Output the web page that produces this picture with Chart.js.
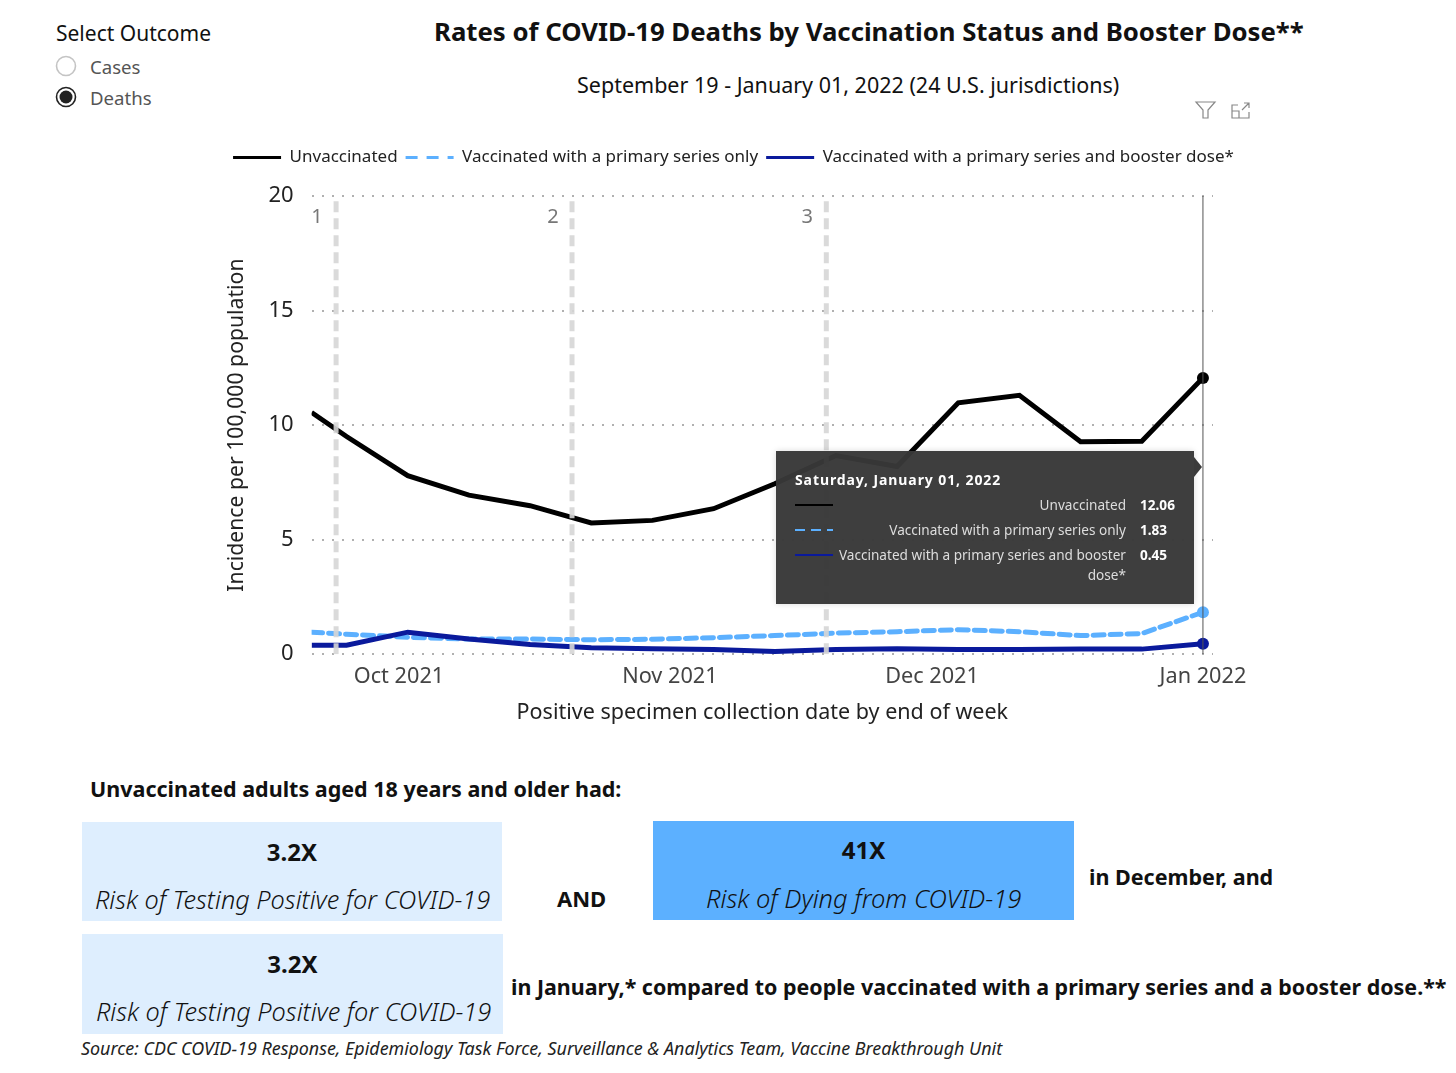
<!DOCTYPE html>
<html>
<head>
<meta charset="utf-8">
<script src="https://cdn.jsdelivr.net/npm/chart.js@4"></script>
<style>
  html, body { margin: 0; background: #fff; }
  body { width: 1456px; height: 1073px; position: relative; overflow: hidden; font-family: "Noto Sans", sans-serif; color: #111; }
  .t { position: absolute; white-space: nowrap; line-height: 1; }
  .b { font-weight: 700; }
  .box { position: absolute; }
  .it { font-style: italic; font-weight: 300; }
  #wrap { position: absolute; left: 100px; top: 130px; width: 1266px; height: 600px; }
  #tip { position: absolute; left: 776px; top: 451px; width: 418px; height: 153px; background: rgba(56,56,56,.97); box-shadow: 0 0 6px rgba(0,0,0,.15); color: #ddd; font-size: 13.6px; }
  #tip:after { content: ""; position: absolute; left: 418px; top: 6px; border: 10px solid transparent; border-left: 8px solid #3b3b3b; border-right: 0; }
  #tip .t { position: absolute; }
</style>
</head>
<body>
<div class="t" style="left:56px;top:23px;font-size:21px;">Select Outcome</div>
<svg class="box" style="left:54px;top:54px" width="26" height="56">
  <circle cx="12" cy="12" r="9.5" fill="#fff" stroke="#c4c4c4" stroke-width="1.6"/>
  <circle cx="12" cy="43" r="9.5" fill="#fff" stroke="#222" stroke-width="1.6"/>
  <circle cx="12" cy="43" r="6.5" fill="#222"/>
</svg>
<div class="t" style="left:90px;top:58px;font-size:18.6px;color:#555">Cases</div>
<div class="t" style="left:90px;top:89px;font-size:18.6px;color:#555">Deaths</div>

<div class="t b" style="left:434px;top:19px;font-size:25.75px;">Rates of COVID-19 Deaths by Vaccination Status and Booster Dose**</div>
<div class="t" style="left:577px;top:74px;font-size:21.5px;">September 19 - January 01, 2022 (24 U.S. jurisdictions)</div>
<svg class="box" style="left:1194px;top:100px" width="60" height="20" fill="none" stroke="#888" stroke-width="1.2">
  <path d="M2 2 H21 L14 10 V18 H9 V10 Z"/>
  <path d="M44 5 H38 V18 H55 V12 M38 11 H45 V18 M48 10 L55 3 M50 3 H55 V8"/>
</svg>

<div id="wrap"><canvas id="deaths-chart"></canvas></div>
<div id="tip"></div>

<div class="t b" style="left:90px;top:778px;font-size:21.5px;">Unvaccinated adults aged 18 years and older had:</div>
<div class="box" style="left:82px;top:822px;width:420px;height:99px;background:#deeefe"></div>
<div class="t b" style="left:82px;width:420px;text-align:center;top:840px;font-size:24px;">3.2X</div>
<div class="t it" style="left:95px;top:887px;font-size:25.3px;">Risk of Testing Positive for COVID-19</div>
<div class="t b" style="left:557px;top:887px;font-size:22px;">AND</div>
<div class="box" style="left:653px;top:821px;width:421px;height:99px;background:#5cb0ff"></div>
<div class="t b" style="left:653px;width:421px;text-align:center;top:838px;font-size:24px;">41X</div>
<div class="t it" style="left:706px;top:886px;font-size:25.5px;">Risk of Dying from COVID-19</div>
<div class="t b" style="left:1089px;top:866px;font-size:21.5px;">in December, and</div>
<div class="box" style="left:82px;top:934px;width:421px;height:100px;background:#deeefe"></div>
<div class="t b" style="left:82px;width:421px;text-align:center;top:952px;font-size:24px;">3.2X</div>
<div class="t it" style="left:96px;top:999px;font-size:25.3px;">Risk of Testing Positive for COVID-19</div>
<div class="t b" style="left:511px;top:976px;font-size:21.45px;">in January,* compared to people vaccinated with a primary series and a booster dose.**</div>
<div class="t" style="left:81px;top:1040px;font-size:17.9px;font-style:italic;color:#222">Source: CDC COVID-19 Response, Epidemiology Task Force, Surveillance &amp; Analytics Team, Vaccine Breakthrough Unit</div>

<script>
"use strict";

// x values are days relative to Jan 1 2022 (no date adapter in the sandbox)
const weekDays = [-102, -98, -91, -84, -77, -70, -63, -56, -49, -42, -35, -28, -21, -14, -7, 0];
const unvaccinated = [10.55, 9.5, 7.79, 6.94, 6.48, 5.73, 5.84, 6.35, 7.44, 8.67, 8.19, 10.97, 11.3, 9.27, 9.29, 12.06];
const primaryOnly = [0.96, 0.87, 0.74, 0.66, 0.66, 0.63, 0.65, 0.72, 0.81, 0.92, 0.98, 1.07, 0.98, 0.81, 0.9, 1.83];
const boosted = [0.39, 0.39, 0.96, 0.66, 0.42, 0.28, 0.24, 0.2, 0.12, 0.2, 0.24, 0.2, 0.2, 0.22, 0.22, 0.45];

const monthDays = [-92, -61, -31, 0];
const monthLabels = ['Oct 2021', 'Nov 2021', 'Dec 2021', 'Jan 2022'];
const phaseDays = [-99.2, -72.2, -43.1];
const phaseNames = ['1', '2', '3'];
const yTicks = [0, 5, 10, 15, 20];

const seriesNames = ['Unvaccinated', 'Vaccinated with a primary series only', 'Vaccinated with a primary series and booster dose*'];
const BLACK = '#000000', SKY = '#5cb0ff', NAVY = '#0a1a9c';
const FONT = '"Noto Sans", sans-serif';

const toPoints = (ys) => weekDays.map((d, i) => ({ x: d, y: ys[i] }));
const lastPointOnly = (ctx) => ctx.dataIndex === weekDays.length - 1 ? 6 : 0;

const lineSet = (label, ys, color, dash) => ({
    label: label,
    data: toPoints(ys),
    borderColor: color,
    backgroundColor: color,
    borderWidth: 5,
    borderDash: dash,
    borderCapStyle: dash.length ? 'round' : 'butt',
    pointRadius: lastPointOnly,
    pointBackgroundColor: color,
    pointBorderWidth: 0,
    tension: 0
});

const guideSets = phaseDays.map((d) => ({
    label: 'phase',
    data: [{ x: d, y: 0 }, { x: d, y: 20 }],
    borderColor: 'rgba(214,214,214,.9)',
    borderWidth: 5,
    borderDash: [11, 6],
    pointRadius: 0
}));

const hoverLine = {
    label: 'hover',
    data: [{ x: 0, y: 0 }, { x: 0, y: 20 }],
    borderColor: '#555555',
    borderWidth: 1,
    pointRadius: 0
};

const phaseText = {
    id: 'phaseText',
    afterDatasetsDraw(chart) {
        const c = chart.ctx;
        c.save();
        c.font = '20px ' + FONT;
        c.fillStyle = '#777';
        c.textAlign = 'center';
        c.textBaseline = 'middle';
        phaseDays.forEach((d, i) => {
            c.fillText(phaseNames[i], chart.scales.x.getPixelForValue(d) - 19, chart.scales.y.getPixelForValue(19.07));
        });
        c.restore();
    }
};

// extra room under the legend, and move it to where the report has it
const legendGap = {
    id: 'legendGap',
    beforeInit(chart) {
        const fit = chart.legend.fit;
        chart.legend.fit = function () {
            fit.call(this);
            this.height += 20;
        };
    },
    afterLayout(chart) {
        chart.legend.left += 32;
        chart.legend.right += 32;
    }
};

const chart = new Chart(document.getElementById('deaths-chart').getContext('2d'), {
    type: 'line',
    data: {
        datasets: [
            ...guideSets,
            hoverLine,
            lineSet(seriesNames[2], boosted, NAVY, []),
            lineSet(seriesNames[1], primaryOnly, SKY, [11, 6]),
            lineSet(seriesNames[0], unvaccinated, BLACK, [])
        ]
    },
    options: {
        responsive: true,
        maintainAspectRatio: false,
        animation: false,
        layout: { padding: { left: 90, right: 153, top: 11, bottom: 4 } },
        scales: {
            x: {
                type: 'linear',
                min: -102,
                max: 1.15,
                afterBuildTicks: (scale) => { scale.ticks = monthDays.map((v) => ({ value: v })); },
                grid: { display: false },
                border: { display: false },
                ticks: {
                    autoSkip: false,
                    maxRotation: 0,
                    padding: 2,
                    color: '#444',
                    font: { family: FONT, size: 21.7 },
                    callback: (v, i) => monthLabels[i]
                },
                title: {
                    display: true,
                    text: 'Positive specimen collection date by end of week',
                    color: '#222',
                    font: { family: FONT, size: 21.5 },
                    padding: { top: 8, bottom: 0 }
                }
            },
            y: {
                min: 0,
                max: 20,
                afterBuildTicks: (scale) => { scale.ticks = yTicks.map((v) => ({ value: v })); },
                grid: { color: '#b0b0b0', lineWidth: 2, drawTicks: false },
                border: { display: false, dash: [2, 8] },
                ticks: {
                    padding: 18,
                    color: '#222',
                    font: { family: FONT, size: 22 }
                },
                title: {
                    display: true,
                    text: 'Incidence per 100,000 population',
                    color: '#222',
                    font: { family: FONT, size: 21.2 },
                    padding: { top: 34, bottom: 1 }
                }
            }
        },
        plugins: {
            tooltip: { enabled: false },
            legend: {
                display: true,
                position: 'top',
                labels: {
                    usePointStyle: true,
                    pointStyle: 'line',
                    pointStyleWidth: 48,
                    color: '#222',
                    padding: 8,
                    font: { family: FONT, size: 17 },
                    generateLabels: () => seriesNames.map((name, i) => ({
                        text: name,
                        strokeStyle: [BLACK, SKY, NAVY][i],
                        fillStyle: [BLACK, SKY, NAVY][i],
                        fontColor: '#222',
                        lineWidth: 3,
                        lineDash: i === 1 ? [12, 9] : [],
                        pointStyle: 'line'
                    }))
                }
            }
        }
    },
    plugins: [phaseText, legendGap]
});

// Power BI style hover card for the last week
const tip = document.getElementById('tip');
const tipValues = [unvaccinated, primaryOnly, boosted].map((s) => s[s.length - 1].toFixed(2));
const tipRows = [
    { name: seriesNames[0], y: 55, color: BLACK, dash: '' },
    { name: seriesNames[1], y: 80, color: SKY, dash: '10 6' },
    { name: 'Vaccinated with a primary series and booster', y: 105, color: NAVY, dash: '' }
];
let html = '<div class="t b" style="left:19px;top:22px;font-size:14px;letter-spacing:.9px;color:#fff">Saturday, January 01, 2022</div>';
tipRows.forEach((r, i) => {
    html += '<svg style="position:absolute;left:19px;top:' + (r.y - 5) + 'px" width="38" height="8"><line x1="0" x2="38" y1="4" y2="4" stroke="' + r.color + '" stroke-width="2" stroke-dasharray="' + r.dash + '"/></svg>';
    html += '<div class="t" style="right:68px;top:' + (r.y - 8) + 'px">' + r.name + '</div>';
    html += '<div class="t b" style="left:364px;top:' + (r.y - 8) + 'px;color:#fff">' + tipValues[i] + '</div>';
});
html += '<div class="t" style="right:68px;top:117px">dose*</div>';
tip.innerHTML = html;
</script>
</body>
</html>
